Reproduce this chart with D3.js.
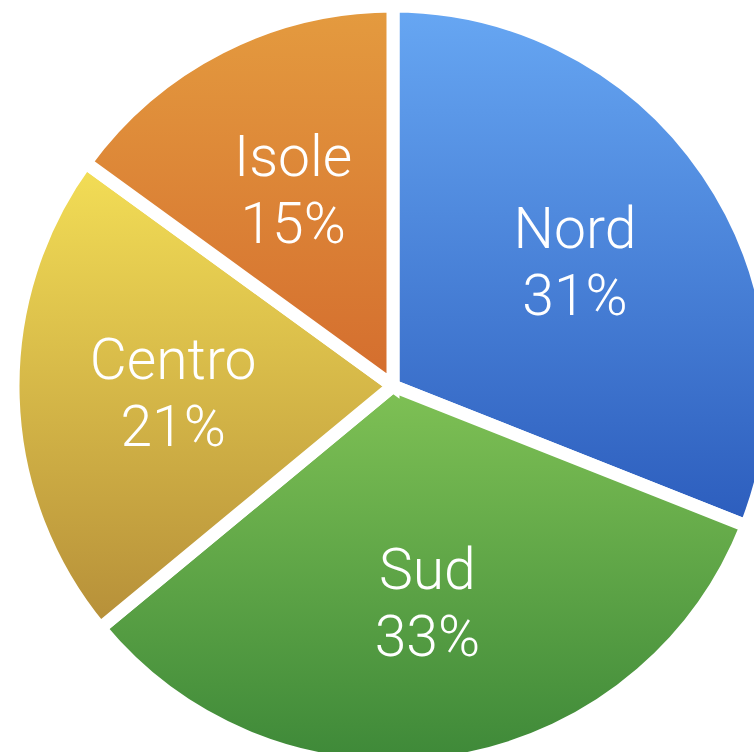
<!DOCTYPE html>
<html>
<head>
<meta charset="utf-8">
<script src="https://cdn.jsdelivr.net/npm/d3@7"></script>
<style>
  html, body { margin: 0; padding: 0; background: #fff; }
  svg { display: block; }
</style>
</head>
<body>
<div id="pie-chart"></div>
<script>
// data
var regions = ["Nord", "Sud", "Centro", "Isole"];
var shares = [31, 33, 21, 15];
// gradient stops per slice (top colour, bottom colour)
var topColors = ["#67a7f3", "#7fc155", "#f3de56", "#e49b3f"];
var bottomColors = ["#2c5dbd", "#3d8838", "#b68f39", "#d46d2e"];

var width = 754, height = 752;
var cx = 393, cy = 386, radius = 380;

var svg = d3.select("#pie-chart").append("svg")
    .attr("width", width)
    .attr("height", height);

// one vertical gradient per slice
var defs = svg.append("defs");
regions.forEach(function(name, i){
  var grad = defs.append("linearGradient")
      .attr("id", "grad-" + i)
      .attr("x1", 0).attr("y1", 0)
      .attr("x2", 0).attr("y2", 1);
  grad.append("stop").attr("offset", "0%").attr("stop-color", topColors[i]);
  grad.append("stop").attr("offset", "100%").attr("stop-color", bottomColors[i]);
});

var pie = d3.pie().sort(null).value(function(d){ return d.value; });
var data = regions.map(function(name, i){ return {name: name, value: shares[i], idx: i}; });
var arcs = pie(data);

var arc = d3.arc().innerRadius(0).outerRadius(radius);
var labelArc = d3.arc().innerRadius(220).outerRadius(220);

var g = svg.append("g").attr("transform", "translate(" + cx + "," + cy + ")");

// slices, white stroke makes the gaps
g.selectAll("path.slice")
  .data(arcs)
  .enter()
  .append("path")
  .attr("class", "slice")
  .attr("d", arc)
  .attr("fill", function(d){ return "url(#grad-" + d.data.idx + ")"; })
  .attr("stroke", "#fff")
  .attr("stroke-width", 13)
  .attr("stroke-linejoin", "miter");

// labels: name + percent
var labels = g.selectAll("text.label")
  .data(arcs)
  .enter()
  .append("text")
  .attr("class", "label")
  .attr("transform", function(d){ return "translate(" + labelArc.centroid(d) + ")"; })
  .attr("text-anchor", "middle")
  .attr("fill", "#fff")
  .style("font-family", "'Helvetica Neue', Roboto, 'Liberation Sans', sans-serif")
  .style("font-weight", 300)
  .style("font-size", "57px");

labels.append("tspan")
  .attr("x", 0)
  .attr("y", -14)
  .text(function(d){ return d.data.name; });

labels.append("tspan")
  .attr("x", 0)
  .attr("y", 53)
  .text(function(d){ return d.data.value + "%"; });
</script>
</body>
</html>
